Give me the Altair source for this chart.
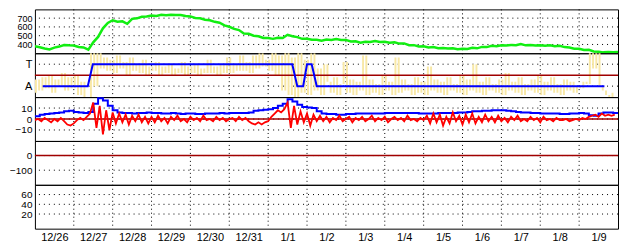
import json
import altair as alt
import pandas as pd

# ---------------- data ----------------
DAY_LABELS = ["12/26", "12/27", "12/28", "12/29", "12/30", "12/31", "1/1", "1/2",
              "1/3", "1/4", "1/5", "1/6", "1/7", "1/8", "1/9"]
DAY_BOUNDS = list(range(1, 15))          # midnight grid lines (days since 12/26 00:00)

# panel 1: green series, every 3 hours
GREEN = [380, 368, 354, 344, 364, 376, 394, 390, 388, 372,
         366, 340, 424, 486, 584, 646, 676, 660, 664, 636,
         692, 698, 716, 718, 730, 726, 738, 734, 740, 736,
         736, 724, 720, 702, 698, 682, 676, 658, 648, 618,
         602, 578, 564, 526, 522, 500, 494, 474, 474, 464,
         476, 474, 510, 494, 484, 464, 466, 454, 454, 442,
         456, 452, 462, 452, 452, 434, 436, 420, 432, 428,
         438, 428, 432, 420, 424, 410, 412, 392, 392, 376,
         380, 366, 370, 356, 360, 354, 356, 346, 350, 348,
         362, 356, 372, 370, 384, 380, 392, 388, 394, 392,
         404, 390, 394, 388, 392, 386, 390, 380, 384, 370,
         366, 352, 352, 338, 340, 320, 318, 310, 314, 310,
         314]

# panel 2: mode (A=1, T=2) change points, and yellow series every 2 hours
MODE_DAYS = [0.2, 1.36, 1.49, 6.62, 6.75, 6.9, 7.0, 7.12, 7.25, 14.65]
MODE_VALS = [1, 1, 2, 2, 1, 1, 2, 2, 1, 1]
YELLOW = [0.7, 1.3, 0.8, 1.4, 0.9, 1.5, 0.7, 1.3, 1.0, 1.6, 0.8, 1.4, 0.9, 1.5, 0.6, 1.2, 0.5,
          0.4, 2.6, 1.0, 2.7, 1.8,
          2.3, 1.7, 2.2, 1.6, 2.4, 1.8, 2.1, 1.5, 2.3, 1.7, 2.0, 1.6, 2.2, 1.5, 1.9, 1.7, 2.1,
          1.5, 1.9, 1.6, 2.0, 1.5, 1.8, 1.6, 2.1, 1.5, 1.9, 1.6, 2.0, 1.5, 1.8, 1.6, 2.2, 1.6,
          1.9, 1.5, 2.0, 1.6, 2.3, 1.6, 2.0, 1.7, 2.4,
          1.7, 2.1, 1.6, 2.4, 1.8, 2.5, 1.9, 2.2, 1.7, 2.6, 1.5, 2.4, 0.8, 2.6, 0.6, 2.3,
          0.5, 2.6, 0.7, 2.2, 0.6, 2.5, 0.8, 1.8, 0.6, 2.0,
          1.2, 0.7, 1.4, 0.6, 1.1, 2.1, 0.7, 1.3, 0.6, 1.2, 0.8, 2.4, 0.6, 1.3, 0.7, 1.1, 0.6,
          1.5, 0.8, 1.2, 0.6, 2.3, 0.7, 1.3, 0.8, 1.1, 0.6, 1.4, 0.7, 1.2,
          0.6, 1.9, 0.8, 1.3, 0.7, 1.2, 0.6, 1.4, 0.8, 1.1, 0.7, 1.5, 0.6, 1.3, 0.8, 2.0, 0.7,
          1.2, 0.6, 1.4, 0.8, 1.1, 0.7, 1.3, 0.6, 1.6, 0.8, 1.2, 0.7, 1.4,
          0.6, 1.1, 0.8, 1.3, 0.7, 1.5, 0.6, 1.2, 0.8, 1.4, 0.7, 1.1, 0.6, 1.3, 0.8, 1.2, 0.7,
          1.0, 0.9, 1.2,
          1.1, 2.6, 1.8, 2.6, 1.0, 0.8, 0.6, 0.5, 0.7]

# panel 3: blue series every 3 hours, red series every 2 hours
BLUE_DIFF = [2.5, 4, 4.5, 5, 5.5, 6, 7, 7.5, 6.5, 6,
             5.5, 6.5, 14, 19, 17, 12, 8, 6, 5.5, 5.5,
             5, 5.5, 5.5, 6, 5.5, 5.5, 5, 5, 5.5, 5,
             4.5, 5, 5, 4.5, 4.5, 5, 5, 5, 5.5, 5,
             5.5, 5.5, 5.5, 5.5, 6, 7.5, 8, 8.5, 9, 10,
             12, 14, 18, 16, 13, 11, 10.5, 10, 7, 5,
             4.5, 4.5, 4, 4, 4.5, 4.5, 5, 5, 5, 5,
             5, 5, 5.5, 5.5, 5.5, 5.5, 5.5, 5.5, 5.5, 5,
             5, 5, 5, 5.5, 5.5, 5.5, 5.5, 6, 6, 6.5,
             7, 7, 7.5, 7.5, 8, 8, 8, 7.5, 7, 6.5,
             6, 6, 5.5, 5.5, 5, 5, 5, 5, 4.5, 4.5,
             5, 5, 5.5, 5, 3.5, 3, 5, 6, 6, 5.5,
             5.5]
RED_DIFF = [-1, 0, -2, 1, -1, -3, 0, -2, 1,
            -2, -5, -6, -4,
            -1, 1, -1, 2,
            5, 15, -8, 12, -14, 8, -10, 6,
            -4, 5, -3, 4, -5, 3, -2, 4, -3, 2, -4,
            2, -3, 3, -2, 1, -4, 2, -1, 3, -2, 0, -3, 2, -1, 1, -2, 3, -1, 0, -2, 2, -1, 1, -2, 0,
            1, -2, 2, -1, 1, -2,
            -4, -5, -3, -5, -3, -2,
            2, 5, 8, 6, 9,
            15, -8, 12,
            -5, 7, -3, 5, -6, 4, -2, 3,
            -2, 2, -3, 1, -1, 3, -2, 0, 2, -3, 1, -1, 2, -2, 0, 3, -2, 1, -1, 2, -3, 0, 2, -1,
            1, -2, 3, -1, 0, -2, 1, -1,
            3, -4, 5, -3, 4, -6, 2, -4, 6, -2, 3, -5, 4, -3, 5, -4, 2, -3, 4, -2,
            2, -3, 3, -2, 1, -3, 2, -1, 3, -2, 0, -2, 2, -1, 1, -3, 2, -1, 0, -2, 1, -1,
            -1, 0, -2, -1, 0, -1, 1, 0,
            2, 3, 4, 2, 5, 3, 4, 3, 4]

P1_DOMAIN, P1_TICKS = [300, 800], [400, 500, 600, 700]
P2_DOMAIN, P2_TICKS = [0.5, 2.5], [1, 2]
P3_DOMAIN, P3_TICKS = [-20, 20], [-10, 0, 10]
P4_DOMAIN, P4_TICKS = [-200, 100], [-100, 0]
P5_DOMAIN, P5_TICKS = [-10, 80], [20, 40, 60]
P2_MID = [1.5]
ZERO = [0]

# ---------------- styling ----------------
W, H = 585, 44
GREEN_C, BLUE_C, RED_C, DARKRED_C, YELLOW_C = "#11ee11", "#0000ff", "#ff0000", "#a00000", "#f8e8a6"
FONT = "Liberation Sans"

xs = alt.Scale(domain=[0, 15], nice=False, zero=False)


def series_df(values, step_days):
    return pd.DataFrame({"day": [i * step_days for i in range(len(values))], "v": values})


def strips_df(values, step_days):
    n = len(values)
    return pd.DataFrame({
        "day": [i * step_days for i in range(n)],
        "day2": [i * step_days + 0.6 * step_days for i in range(n)],
        "v": values,
        "v2": [values[min(i + 1, n - 1)] for i in range(n)],
    })


def make_panel(domain, ticks, layers, label_expr=None, bottom=False, font_size=10):
    ys = alt.Scale(domain=domain, nice=False, zero=False)
    ykw = dict(values=ticks, title=None, grid=False, ticks=False, domain=False,
               labelPadding=3, minExtent=24, maxExtent=24, labelFontSize=font_size,
               labelFont=FONT, labelColor="black", labelOverlap=False, labelFlush=False)
    if label_expr:
        ykw["labelExpr"] = label_expr
    yaxis = alt.Axis(**ykw)
    if bottom:
        xaxis = alt.Axis(values=[i + 0.5 for i in range(15)],
                         labelExpr=json.dumps(DAY_LABELS) + "[floor(datum.value)]",
                         title=None, grid=False, ticks=False, domain=False,
                         labelPadding=3, labelFontSize=11, labelFont=FONT,
                         labelColor="black", labelOverlap=False, labelFlush=False)
    else:
        xaxis = None

    vgrid = alt.Chart(pd.DataFrame({"day": DAY_BOUNDS})).mark_rule(
        color="black", strokeDash=[1, 3], strokeWidth=1).encode(
        x=alt.X("day:Q", scale=xs, axis=xaxis))
    hgrid = alt.Chart(pd.DataFrame({"v": ticks})).mark_rule(
        color="black", strokeDash=[1, 4], strokeWidth=1).encode(
        y=alt.Y("v:Q", scale=ys, axis=yaxis))
    built = [hgrid, vgrid]
    for kind, df, props in layers:
        if kind == "hrule":
            built.append(alt.Chart(df).mark_rule(**props).encode(
                y=alt.Y("v:Q", scale=ys, axis=yaxis)))
        elif kind == "strips":
            built.append(alt.Chart(df).mark_rect(clip=True, **props).encode(
                x=alt.X("day:Q", scale=xs, axis=xaxis), x2="day2:Q",
                y=alt.Y("v:Q", scale=ys, axis=yaxis), y2="v2:Q"))
        else:
            built.append(alt.Chart(df).mark_line(clip=True, **props).encode(
                x=alt.X("day:Q", scale=xs, axis=xaxis),
                y=alt.Y("v:Q", scale=ys, axis=yaxis),
                order="day:Q"))
    return alt.layer(*built).properties(width=W, height=H)


p1 = make_panel(P1_DOMAIN, P1_TICKS, [
    ("line", series_df(GREEN, 1 / 8), dict(color=GREEN_C, strokeWidth=2.5)),
], font_size=9)
p2 = make_panel(P2_DOMAIN, P2_TICKS, [
    ("strips", strips_df(YELLOW, 1 / 12), dict(color=YELLOW_C)),
    ("hrule", pd.DataFrame({"v": P2_MID}), dict(color=DARKRED_C, strokeWidth=1.5)),
    ("line", pd.DataFrame({"day": MODE_DAYS, "v": MODE_VALS}), dict(color=BLUE_C, strokeWidth=2)),
], label_expr="datum.value == 2 ? 'T' : 'A'", font_size=11)
p3 = make_panel(P3_DOMAIN, P3_TICKS, [
    ("hrule", pd.DataFrame({"v": ZERO}), dict(color=DARKRED_C, strokeWidth=1.5)),
    ("line", series_df(BLUE_DIFF, 1 / 8), dict(color=BLUE_C, strokeWidth=2, interpolate="step-after")),
    ("line", series_df(RED_DIFF, 1 / 12), dict(color=RED_C, strokeWidth=1.8)),
])
p4 = make_panel(P4_DOMAIN, P4_TICKS, [
    ("hrule", pd.DataFrame({"v": ZERO}), dict(color=DARKRED_C, strokeWidth=1.5)),
])
p5 = make_panel(P5_DOMAIN, P5_TICKS, [], bottom=True)

chart = alt.vconcat(p1, p2, p3, p4, p5, spacing=0, bounds="flush").properties(
    padding={"left": 0, "top": 0, "right": 0, "bottom": 0},
    background="white",
).configure_view(stroke="black", strokeWidth=1).resolve_scale(y="independent")

chart.save("out.html", embed_options={"renderer": "svg", "actions": False})
